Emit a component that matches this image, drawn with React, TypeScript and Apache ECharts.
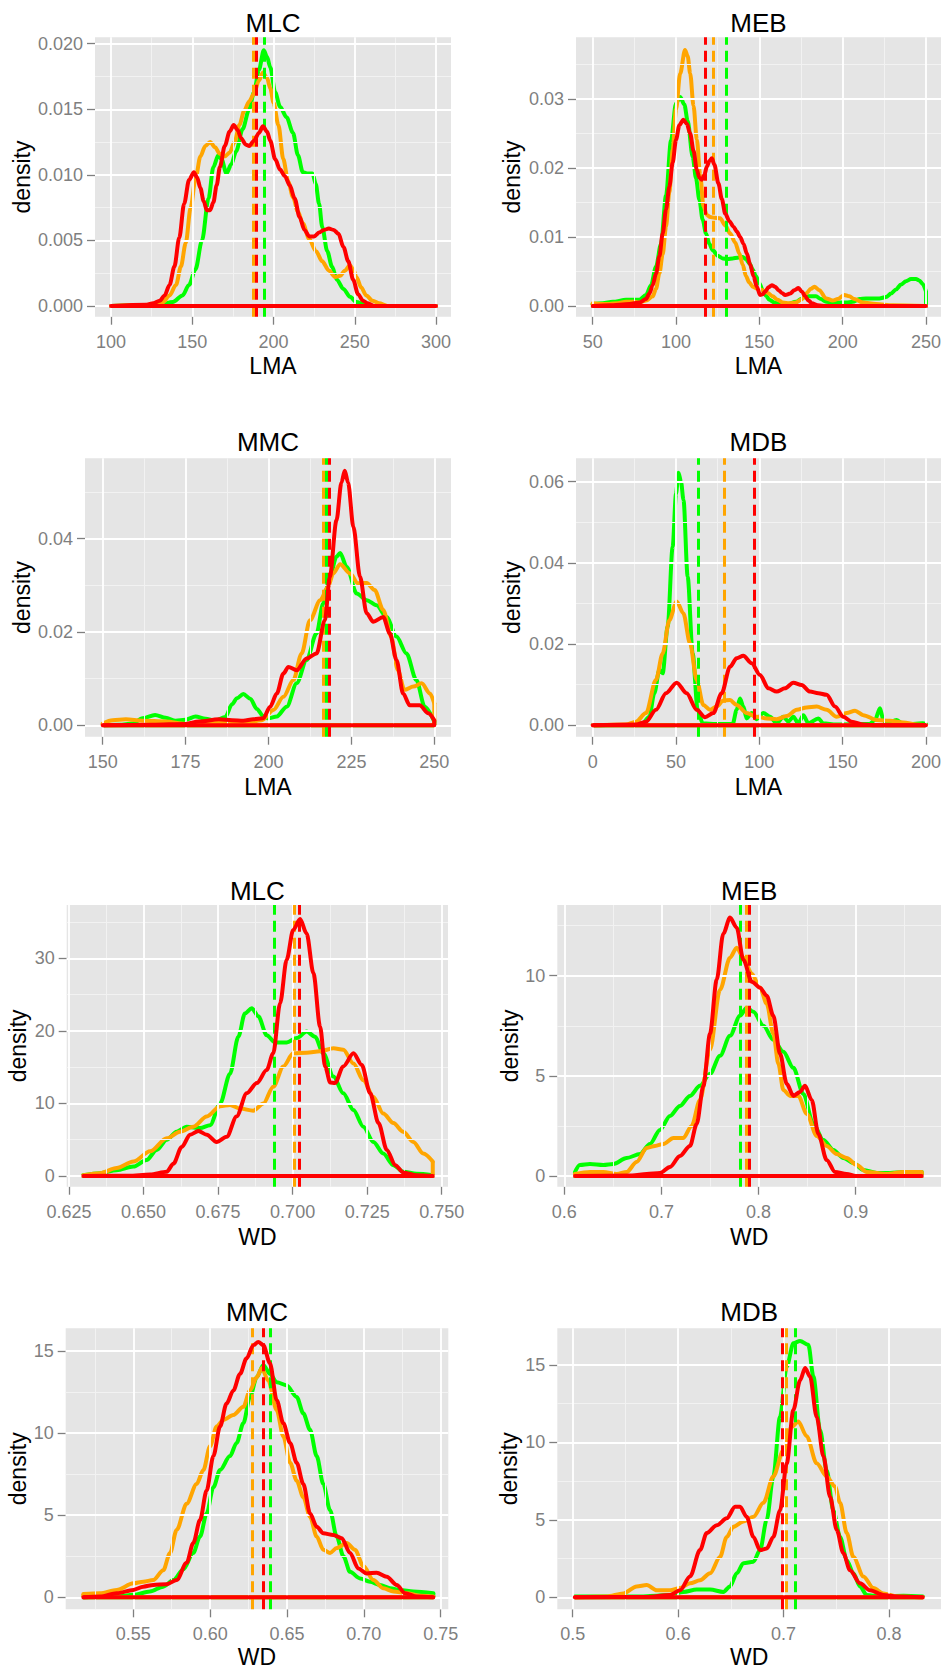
import React, { useEffect, useRef } from "react";
import * as echarts from "echarts";

const COLORS = ["#00FF00", "#FFA500", "#FF0000"];
const FONT = "'Liberation Sans', Arial, sans-serif";

// ---------- Titles / axis names ----------
const panelTitles = ["MLC", "MEB", "MMC", "MDB", "MLC", "MEB", "MMC", "MDB"];
const xNames = ["LMA", "LMA", "LMA", "LMA", "WD", "WD", "WD", "WD"];
const yName = "density";

// ---------- Tick values ----------
const p1XTicks = [100, 150, 200, 250, 300];
const p1XMinor = [125, 175, 225, 275];
const p1YTicks = [0, 0.005, 0.01, 0.015, 0.02];
const p1YMinor = [0.0025, 0.0075, 0.0125, 0.0175];

const p2XTicks = [50, 100, 150, 200, 250];
const p2XMinor = [75, 125, 175, 225];
const p2YTicks = [0, 0.01, 0.02, 0.03];
const p2YMinor = [0.005, 0.015, 0.025, 0.035];

const p3XTicks = [150, 175, 200, 225, 250];
const p3XMinor = [162.5, 187.5, 212.5, 237.5];
const p3YTicks = [0, 0.02, 0.04];
const p3YMinor = [0.01, 0.03, 0.05];

const p4XTicks = [0, 50, 100, 150, 200];
const p4XMinor = [25, 75, 125, 175];
const p4YTicks = [0, 0.02, 0.04, 0.06];
const p4YMinor = [0.01, 0.03, 0.05];

const p5XTicks = [0.625, 0.65, 0.675, 0.7, 0.725, 0.75];
const p5XMinor = [0.6375, 0.6625, 0.6875, 0.7125, 0.7375];
const p5YTicks = [0, 10, 20, 30];
const p5YMinor = [5, 15, 25, 35];

const p6XTicks = [0.6, 0.7, 0.8, 0.9];
const p6XMinor = [0.65, 0.75, 0.85, 0.95];
const p6YTicks = [0, 5, 10];
const p6YMinor = [2.5, 7.5, 12.5];

const p7XTicks = [0.55, 0.6, 0.65, 0.7, 0.75];
const p7XMinor = [0.525, 0.575, 0.625, 0.675, 0.725];
const p7YTicks = [0, 5, 10, 15];
const p7YMinor = [2.5, 7.5, 12.5];

const p8XTicks = [0.5, 0.6, 0.7, 0.8];
const p8XMinor = [0.55, 0.65, 0.75];
const p8YTicks = [0, 5, 10, 15];
const p8YMinor = [2.5, 7.5, 12.5];

// ---------- Density curves ----------
// Panel 1: MLC, LMA
const mlcLmaGreen = [[100,0],[130,0.0001],[138,0.0003],[144,0.0008],[148,0.0016],[152,0.0028],[156,0.005],[160,0.0082],[163,0.0106],[166,0.0115],[168,0.0112],[171,0.0101],[174,0.0108],[177,0.0118],[181,0.0135],[185,0.015],[188,0.0163],[191,0.018],[194,0.0195],[196,0.019],[198,0.0182],[201,0.0163],[204,0.0152],[208,0.0144],[212,0.0132],[215,0.0115],[218,0.0102],[221,0.0101],[224,0.0101],[226,0.0093],[228,0.0078],[230,0.006],[233,0.0042],[236,0.003],[239,0.002],[243,0.0013],[247,0.0007],[251,0.0003],[256,0.0001],[260,0],[300,0]];
const mlcLmaOrange = [[100,0],[128,0.0001],[132,0.0003],[136,0.0008],[140,0.0016],[143,0.003],[146,0.0048],[149,0.0075],[152,0.0097],[155,0.0114],[158,0.0122],[161,0.0125],[164,0.0121],[167,0.0116],[170,0.0114],[173,0.0117],[176,0.0125],[179,0.0138],[182,0.0149],[185,0.0156],[188,0.0162],[191,0.0172],[193.5,0.0178],[196,0.0174],[198,0.0166],[200,0.0155],[203,0.0138],[206,0.0112],[209,0.0095],[212,0.0083],[215,0.0072],[218,0.0063],[222,0.0051],[226,0.0042],[230,0.0034],[234,0.0027],[238,0.0022],[241,0.0023],[244,0.0027],[247,0.0031],[249,0.0028],[251,0.0022],[254,0.0014],[257,0.0008],[261,0.0004],[265,0.0002],[270,0],[300,0]];
const mlcLmaRed = [[100,0],[122,0.0001],[126,0.0002],[130,0.0004],[133,0.0008],[136,0.0016],[139,0.003],[142,0.0052],[145,0.0078],[148,0.0096],[151,0.0102],[153,0.0098],[155,0.009],[157,0.008],[159,0.0073],[161,0.0073],[163,0.0079],[165,0.0092],[167,0.0106],[170,0.0122],[173,0.0133],[175.5,0.0138],[178,0.0134],[180,0.0128],[183,0.0123],[185,0.0122],[188,0.0126],[191,0.0132],[193.5,0.0137],[196,0.0133],[198,0.0126],[201,0.0112],[204,0.0104],[207,0.0099],[210,0.0092],[213,0.0082],[216,0.0068],[219,0.0058],[222,0.0053],[225,0.0053],[228,0.0056],[231,0.0058],[234,0.0059],[237,0.0058],[240,0.0055],[243,0.0045],[246,0.0034],[249,0.002],[252,0.0009],[255,0.0004],[258,0.0002],[262,0],[300,0]];
const mlcLmaMeans = [194.3, 187.6, 189.6];

// Panel 2: MEB, LMA
const mebLmaGreen = [[50,0.0003],[56,0.0004],[62,0.0006],[70,0.0009],[78,0.0009],[82,0.0016],[85,0.003],[88,0.0057],[91,0.009],[94,0.016],[97,0.024],[100,0.0294],[102.5,0.0303],[105,0.0292],[107,0.0268],[110,0.0216],[112,0.0185],[114,0.0154],[116,0.0125],[118,0.0105],[120,0.009],[122,0.0081],[125,0.0073],[128,0.0069],[131,0.0068],[134,0.0069],[137,0.007],[140,0.0071],[142,0.0068],[144,0.0062],[146,0.0053],[148,0.0043],[150,0.0033],[152,0.0023],[154,0.0015],[156,0.0009],[159,0.0005],[162,0.0003],[167,0.0003],[172,0.0006],[175,0.001],[178,0.0014],[184,0.0014],[187,0.001],[190,0.0006],[196,0.0005],[202,0.0005],[206,0.0006],[210,0.001],[214,0.0011],[222,0.0011],[226,0.0013],[229,0.0018],[232,0.0024],[235,0.0031],[238,0.0036],[241,0.0039],[244,0.0039],[246,0.0037],[248,0.0032],[250,0.0021]];
const mebLmaOrange = [[50,0.0004],[55,0.0003],[60,0.0003],[65,0.0004],[70,0.0006],[75,0.0006],[78,0.0005],[82,0.0008],[86,0.0014],[88,0.0025],[90,0.0047],[92,0.0075],[94,0.0115],[96,0.0165],[98,0.0226],[100,0.0285],[102.5,0.0337],[105.4,0.0371],[107,0.0362],[108.5,0.0337],[110.5,0.029],[112.5,0.0241],[114.5,0.019],[116.5,0.0144],[118.5,0.0132],[120.5,0.0129],[123,0.0128],[126.5,0.0127],[129.5,0.0117],[132.5,0.0105],[135.5,0.0092],[138,0.0076],[140,0.006],[142,0.0043],[144,0.0034],[146,0.0028],[149,0.0025],[152,0.0023],[155,0.0019],[158,0.0014],[161,0.0009],[164,0.0005],[168,0.0004],[172,0.0005],[175,0.0009],[178,0.0018],[181,0.0025],[183,0.0028],[186,0.0023],[190,0.0011],[194,0.0008],[197,0.001],[201,0.0016],[204,0.0014],[207,0.001],[212,0.0005],[220,0.0003],[230,0.0001],[250,0]];
const mebLmaRed = [[50,0],[60,0.0001],[72,0.0003],[78,0.0005],[82,0.001],[84,0.0018],[86,0.003],[88,0.0047],[90,0.0072],[92,0.0105],[94,0.014],[96,0.0173],[98,0.0208],[100,0.0241],[102,0.0262],[104.4,0.027],[106.5,0.0264],[108.5,0.025],[110.5,0.0225],[112.5,0.0197],[114,0.0186],[115.5,0.0183],[117,0.019],[118.5,0.0202],[120,0.021],[121.5,0.0214],[123,0.0205],[125.4,0.0178],[127.5,0.0155],[129.5,0.0134],[132,0.0123],[134.5,0.0115],[136.5,0.0108],[138.5,0.01],[140.5,0.009],[142.5,0.0076],[144.5,0.006],[146.5,0.0043],[148.5,0.0028],[150.4,0.0016],[152,0.0017],[153.5,0.0021],[155.5,0.0027],[157.5,0.003],[159.5,0.0028],[161.5,0.0023],[163.5,0.0019],[165.5,0.0016],[168.5,0.0018],[171,0.0023],[173.5,0.0026],[175.5,0.0021],[177.5,0.0014],[179.5,0.0008],[181.5,0.0004],[185,0.0001],[190,0],[250,0]];
const mebLmaMeans = [130.4, 122.4, 117.4];

// Panel 3: MMC, LMA
const mmcLmaGreen = [[150,0],[155,0.0001],[159,0.0004],[162,0.0015],[165.8,0.0022],[169,0.0016],[172,0.001],[175,0.0012],[178,0.0019],[181,0.0014],[184,0.001],[187,0.0018],[189,0.0045],[190.5,0.0058],[192.4,0.0067],[194.5,0.0057],[196.5,0.0035],[198.5,0.0019],[200,0.0015],[202.5,0.0019],[205.5,0.004],[208.5,0.009],[211.5,0.014],[214.5,0.0197],[216.5,0.0261],[218.5,0.0318],[220.5,0.0361],[221.6,0.0369],[223.6,0.0339],[226.6,0.0282],[229.6,0.0268],[232.6,0.0257],[235.6,0.0232],[238.6,0.019],[241.6,0.0154],[244.6,0.0097],[247.1,0.004],[250,0.0008]];
const mmcLmaOrange = [[150,0.0004],[153,0.0011],[157,0.0013],[162,0.001],[169,0.0008],[175,0.0003],[181,0.0004],[187,0.0008],[193,0.0006],[198,0.0011],[201.5,0.0033],[204.5,0.0061],[207.5,0.0097],[210,0.0154],[212.5,0.0225],[215.6,0.0268],[218,0.0297],[219.5,0.0325],[221.6,0.0345],[224.6,0.0325],[227,0.0304],[229.6,0.0305],[232,0.029],[234.6,0.0247],[237,0.019],[239,0.0118],[241,0.0076],[243.7,0.0083],[246.2,0.009],[248.7,0.0068],[250,0.0047]];
const mmcLmaRed = [[150,0],[165,0.0001],[175,0.0003],[179,0.0008],[185,0.0013],[189,0.0011],[192.4,0.001],[195.4,0.0013],[198.4,0.0015],[200.5,0.004],[202.5,0.0068],[204.5,0.0111],[206,0.0125],[208.5,0.0118],[211.5,0.0143],[214.5,0.0154],[217,0.0225],[218.5,0.0318],[220.5,0.0439],[222,0.052],[223,0.0545],[224,0.052],[225.6,0.0425],[227.6,0.0318],[229.6,0.024],[231.6,0.0222],[234.6,0.0232],[236.6,0.0197],[238.6,0.014],[240.6,0.0068],[242.6,0.0043],[245.6,0.0043],[248.2,0.0026],[250,0.0011]];
const mmcLmaMeans = [217.4, 216.6, 218.4];

// Panel 4: MDB, LMA
const mdbLmaGreen = [[0,0],[25,0.0001],[30,0.0005],[34,0.0021],[37,0.0079],[40,0.0136],[42,0.0128],[45,0.0243],[48,0.044],[50,0.057],[51.5,0.0622],[53,0.06],[54.5,0.0555],[57,0.0366],[60,0.0177],[63,0.0038],[66,0.0005],[74,0.0003],[84,0.0003],[86.4,0.0038],[88.4,0.0066],[90.4,0.0046],[92.4,0.0017],[95.4,0.003],[98.4,0.0015],[102.4,0.003],[106.4,0.0021],[110.4,0.0005],[114.4,0.0021],[117.4,0.0009],[120.4,0.0021],[123.4,0.0005],[126.4,0.0025],[129.4,0.0005],[135.4,0.0017],[138.4,0.0005],[146,0.0002],[166,0.0003],[169.4,0.0013],[172.4,0.0042],[174.4,0.0013],[176.4,0.0003],[182.4,0.0013],[186.4,0.0002],[198,0.0005],[200,0.0003]];
const mdbLmaOrange = [[0,0],[20,0.0002],[26,0.0009],[32,0.003],[38,0.0112],[42,0.0177],[46,0.0259],[50.4,0.0305],[54.4,0.0276],[58.4,0.0202],[62.4,0.0112],[66.4,0.005],[70.4,0.0038],[74.4,0.0046],[78.4,0.0061],[82.4,0.0062],[86.4,0.005],[92.4,0.003],[98.4,0.0021],[104.4,0.0017],[110.4,0.0015],[116.4,0.0023],[122.4,0.0038],[128.4,0.0044],[134.4,0.0046],[140.4,0.0038],[146.4,0.0021],[152.4,0.003],[157.4,0.0036],[162.4,0.0025],[170.4,0.0013],[178.4,0.0011],[186.4,0.0007],[194.4,0.0002],[200,0]];
const mdbLmaRed = [[0,0],[26,0.0002],[32,0.0009],[38,0.0038],[44,0.0079],[50.4,0.0105],[56.4,0.0079],[62.4,0.0038],[67.4,0.002],[72.4,0.003],[77.4,0.0079],[82.4,0.0144],[86.4,0.0165],[90.4,0.0171],[95.4,0.0153],[100.4,0.0124],[105.4,0.0091],[110.4,0.0083],[115.4,0.0091],[120.4,0.0105],[125.4,0.0099],[130.4,0.0083],[135.4,0.0079],[140.4,0.0075],[145.4,0.0046],[150.4,0.0021],[155.4,0.0009],[162.4,0.0002],[170,0],[200,0]];
const mdbLmaMeans = [63.6, 78.8, 96.8];

// Panel 5: MLC, WD
const mlcWdGreen = [[0.6298,0.1],[0.6354,0.4],[0.641,0.8],[0.6466,1.3],[0.651,2.2],[0.6544,3.6],[0.6578,5.0],[0.6611,6.1],[0.6645,6.8],[0.669,6.6],[0.6723,7.0],[0.6757,10.0],[0.679,14.1],[0.6818,19.2],[0.684,22.4],[0.6863,23.1],[0.6885,22.0],[0.6913,19.4],[0.6941,18.4],[0.698,18.4],[0.7014,19.0],[0.7047,19.9],[0.7075,19.2],[0.7103,16.9],[0.7137,13.7],[0.717,11.4],[0.7204,9.1],[0.7237,6.8],[0.7271,4.7],[0.7304,3.1],[0.7338,1.5],[0.7371,0.6],[0.7416,0.3],[0.747,0.1]];
const mlcWdOrange = [[0.6298,0.1],[0.6354,0.4],[0.641,1.1],[0.6466,2.0],[0.6522,3.4],[0.6578,5.2],[0.6622,6.1],[0.6667,6.8],[0.6712,8.2],[0.6757,9.6],[0.679,9.8],[0.6824,9.3],[0.6868,9.0],[0.6902,10.0],[0.6935,12.3],[0.6969,15.1],[0.7002,16.9],[0.7047,17.0],[0.7092,17.2],[0.7137,17.6],[0.717,17.4],[0.7204,15.5],[0.7237,13.2],[0.7271,10.9],[0.7304,8.6],[0.7338,7.3],[0.7371,6.1],[0.7405,4.7],[0.7438,3.1],[0.747,2.0]];
const mlcWdRed = [[0.6298,0],[0.645,0.05],[0.6522,0.2],[0.6578,0.6],[0.66,1.7],[0.6628,4.0],[0.6656,5.7],[0.6684,6.2],[0.6712,5.7],[0.6745,4.7],[0.6779,5.4],[0.6812,8.2],[0.6846,11.4],[0.688,12.8],[0.6913,14.6],[0.6935,16.9],[0.6958,23.8],[0.698,29.8],[0.7002,33.9],[0.7025,35.4],[0.7047,33.4],[0.707,27.9],[0.7092,20.6],[0.7109,15.1],[0.7126,12.9],[0.7142,12.8],[0.717,15.1],[0.7204,16.9],[0.7232,15.3],[0.726,11.4],[0.7288,7.3],[0.7316,3.6],[0.7344,1.5],[0.7371,0.5],[0.7416,0.1],[0.747,0]];
const mlcWdMeans = [0.6939, 0.7005, 0.7021];

// Panel 6: MEB, WD
const mebWdGreen = [[0.611,0.2],[0.616,0.55],[0.6264,0.6],[0.6402,0.55],[0.6505,0.6],[0.6642,0.9],[0.678,1.1],[0.6882,1.6],[0.6985,2.3],[0.7088,3.0],[0.7191,3.5],[0.7294,4.0],[0.7397,4.5],[0.75,5.1],[0.7603,6.0],[0.7706,7.0],[0.7809,8.0],[0.7878,8.4],[0.7946,8.2],[0.805,7.5],[0.8152,6.8],[0.8255,6.2],[0.8358,5.4],[0.8461,4.1],[0.8564,2.6],[0.8667,1.8],[0.877,1.3],[0.8873,0.9],[0.8976,0.65],[0.9079,0.3],[0.9217,0.15],[0.9354,0.15],[0.9491,0.2],[0.968,0.2]];
const mebWdOrange = [[0.611,0.1],[0.6264,0.2],[0.64,0.2],[0.654,0.1],[0.6642,0.2],[0.6745,0.7],[0.6848,1.4],[0.6934,1.5],[0.702,1.6],[0.7123,1.9],[0.7226,1.9],[0.7311,2.5],[0.7397,3.8],[0.75,6.3],[0.7603,9.3],[0.7706,10.9],[0.7775,11.4],[0.7843,10.9],[0.793,10.1],[0.8015,9.4],[0.8084,8.6],[0.8152,7.1],[0.8204,5.6],[0.8255,4.3],[0.8324,4.0],[0.841,4.0],[0.8496,3.1],[0.8599,2.0],[0.8701,1.5],[0.8804,1.1],[0.8907,0.9],[0.901,0.55],[0.9113,0.2],[0.932,0.1],[0.949,0.2],[0.968,0.2]];
const mebWdRed = [[0.611,0],[0.67,0.02],[0.6848,0.1],[0.6985,0.15],[0.7088,0.45],[0.7191,1.0],[0.7294,1.5],[0.7363,2.6],[0.7432,4.5],[0.75,7.1],[0.7569,9.8],[0.7637,12.1],[0.7706,12.9],[0.7775,12.4],[0.7843,10.8],[0.793,9.7],[0.8015,9.4],[0.8084,9.0],[0.8152,8.0],[0.8221,6.1],[0.829,4.6],[0.8358,4.0],[0.8427,4.2],[0.8478,4.5],[0.8547,3.8],[0.8616,2.1],[0.8701,0.8],[0.8787,0.2],[0.8907,0.1],[0.9,0],[0.968,0]];
const mebWdMeans = [0.781, 0.787, 0.790];

// Panel 7: MMC, WD
const mmcWdGreen = [[0.5175,0],[0.5392,0.05],[0.55,0.15],[0.5608,0.35],[0.5695,0.65],[0.576,1.05],[0.5825,1.7],[0.589,2.7],[0.5934,3.7],[0.5977,5.1],[0.6021,6.7],[0.6064,7.75],[0.6129,8.6],[0.6172,9.4],[0.6216,10.6],[0.6259,12.2],[0.6303,13.4],[0.6346,14.15],[0.6389,13.6],[0.6433,13.1],[0.6498,12.9],[0.6563,12.2],[0.6606,11.2],[0.665,10.2],[0.6693,8.6],[0.6736,6.9],[0.678,5.3],[0.6823,3.7],[0.6867,2.5],[0.691,1.55],[0.6975,1.15],[0.704,0.95],[0.7105,0.75],[0.7171,0.55],[0.7236,0.45],[0.7322,0.35],[0.7452,0.25]];
const mmcWdOrange = [[0.5175,0.2],[0.5283,0.25],[0.5392,0.45],[0.55,0.85],[0.5565,0.95],[0.563,1.05],[0.5695,1.65],[0.5739,2.7],[0.5782,4.1],[0.5847,5.7],[0.5912,6.9],[0.5956,7.75],[0.5999,9.2],[0.6042,10.4],[0.6086,10.8],[0.6151,11.1],[0.6216,11.6],[0.6259,12.6],[0.6303,13.4],[0.6335,13.95],[0.6378,13.2],[0.6433,11.4],[0.6476,9.8],[0.652,8.2],[0.6563,7.1],[0.6606,6.1],[0.665,4.9],[0.6693,3.7],[0.6736,2.9],[0.678,2.7],[0.6823,3.0],[0.6888,3.3],[0.6942,2.9],[0.6997,1.9],[0.7062,1.05],[0.7127,0.55],[0.7192,0.35],[0.7279,0.25],[0.7366,0.1],[0.7452,0.05]];
const mmcWdRed = [[0.5175,0],[0.5283,0.05],[0.5392,0.25],[0.55,0.45],[0.5565,0.65],[0.563,0.75],[0.5717,0.8],[0.5782,1.05],[0.5847,2.1],[0.589,3.3],[0.5934,4.7],[0.5977,6.5],[0.6021,8.6],[0.6064,10.4],[0.6107,11.8],[0.6151,12.6],[0.6194,13.6],[0.6237,14.55],[0.6281,15.35],[0.6313,15.55],[0.6346,15.35],[0.6389,14.25],[0.6433,12.0],[0.6476,10.6],[0.652,9.4],[0.6563,8.2],[0.6606,6.9],[0.665,5.1],[0.6693,4.3],[0.6736,3.9],[0.6801,3.8],[0.6856,3.6],[0.691,2.7],[0.6964,1.75],[0.7018,1.45],[0.7083,1.5],[0.7149,1.25],[0.7214,0.75],[0.7268,0.25],[0.7344,0.05],[0.7452,0]];
const mmcWdMeans = [0.6392, 0.6277, 0.6344];

// Panel 8: MDB, WD
const mdbWdGreen = [[0.502,0.05],[0.5607,0.05],[0.5797,0.1],[0.5923,0.15],[0.605,0.35],[0.6176,0.5],[0.6303,0.5],[0.6429,0.35],[0.6492,0.7],[0.6556,1.55],[0.6619,2.2],[0.6714,2.3],[0.6777,3.05],[0.684,5.0],[0.6903,7.8],[0.6966,11.65],[0.703,14.9],[0.7093,16.4],[0.7156,16.55],[0.7235,16.3],[0.7283,14.25],[0.7346,10.8],[0.7409,8.2],[0.7472,5.6],[0.7536,3.9],[0.7599,2.4],[0.7662,1.55],[0.7725,0.7],[0.7788,0.15],[0.7915,0.05],[0.8136,0.1],[0.832,0.05]];
const mdbWdOrange = [[0.502,0],[0.5322,0.05],[0.548,0.25],[0.5607,0.7],[0.5702,0.8],[0.5797,0.45],[0.5923,0.45],[0.6018,0.6],[0.6113,0.9],[0.6208,1.1],[0.6303,1.55],[0.6397,2.6],[0.6461,3.9],[0.6524,4.55],[0.6619,4.9],[0.6714,5.2],[0.6809,6.1],[0.6903,7.8],[0.6998,9.5],[0.7077,11.0],[0.714,11.35],[0.7219,10.4],[0.7314,8.65],[0.7409,7.8],[0.7488,7.15],[0.7536,6.1],[0.7599,4.15],[0.7662,2.6],[0.7757,1.35],[0.7852,0.6],[0.7947,0.25],[0.8073,0.05],[0.832,0]];
const mdbWdRed = [[0.502,0],[0.57,0.02],[0.5923,0.15],[0.6018,0.45],[0.6113,1.35],[0.6208,3.05],[0.6271,4.15],[0.6366,4.65],[0.6461,5.1],[0.654,5.85],[0.6587,5.85],[0.665,5.2],[0.6714,3.9],[0.6777,3.05],[0.684,3.15],[0.6903,3.9],[0.6966,5.6],[0.703,8.65],[0.7093,12.1],[0.7156,14.0],[0.7204,14.8],[0.7251,14.25],[0.7314,11.65],[0.7378,9.1],[0.7441,6.5],[0.7504,4.35],[0.7567,2.85],[0.763,1.75],[0.7725,0.9],[0.782,0.45],[0.7947,0.15],[0.8073,0.05],[0.832,0]];
const mdbWdMeans = [0.7109, 0.703, 0.6989];

// ---------- Panel layout (positions / axis extents) ----------
const panels = [
  { grid: { left: 95, top: 37.3, width: 356, height: 279.4 }, xr: [90.15, 309.2], yr: [-0.00082, 0.02049], xt: p1XTicks, xm: p1XMinor, yt: p1YTicks, ym: p1YMinor, xd: 0, yd: 3, curves: [mlcLmaGreen, mlcLmaOrange, mlcLmaRed], means: mlcLmaMeans, titleY: 23, xNameY: 366, yNameX: 22 },
  { grid: { left: 576, top: 37.3, width: 365, height: 279.4 }, xr: [39.98, 259], yr: [-0.00155, 0.03894], xt: p2XTicks, xm: p2XMinor, yt: p2YTicks, ym: p2YMinor, xd: 0, yd: 2, curves: [mebLmaGreen, mebLmaOrange, mebLmaRed], means: mebLmaMeans, titleY: 23, xNameY: 366, yNameX: 512 },
  { grid: { left: 85, top: 458.3, width: 366, height: 278.4 }, xr: [144.66, 255.04], yr: [-0.00244, 0.05718], xt: p3XTicks, xm: p3XMinor, yt: p3YTicks, ym: p3YMinor, xd: 0, yd: 2, curves: [mmcLmaGreen, mmcLmaOrange, mmcLmaRed], means: mmcLmaMeans, titleY: 441.7, xNameY: 786.7, yNameX: 22 },
  { grid: { left: 576, top: 458.3, width: 365, height: 278.4 }, xr: [-10, 209], yr: [-0.00281, 0.06576], xt: p4XTicks, xm: p4XMinor, yt: p4YTicks, ym: p4YMinor, xd: 0, yd: 2, curves: [mdbLmaGreen, mdbLmaOrange, mdbLmaRed], means: mdbLmaMeans, titleY: 441.7, xNameY: 786.7, yNameX: 512 },
  { grid: { left: 66.7, top: 905, width: 381.3, height: 281.7 }, xr: [0.62423, 0.75211], yr: [-1.47, 37.34], xt: p5XTicks, xm: p5XMinor, yt: p5YTicks, ym: p5YMinor, xd: 3, yd: 0, curves: [mlcWdGreen, mlcWdOrange, mlcWdRed], means: mlcWdMeans, titleY: 890.7, xNameY: 1236.7, yNameX: 18 },
  { grid: { left: 557.3, top: 905, width: 383.7, height: 281.7 }, xr: [0.5928, 0.9878], yr: [-0.534, 13.53], xt: p6XTicks, xm: p6XMinor, yt: p6YTicks, ym: p6YMinor, xd: 1, yd: 0, curves: [mebWdGreen, mebWdOrange, mebWdRed], means: mebWdMeans, titleY: 890.7, xNameY: 1236.7, yNameX: 510 },
  { grid: { left: 65.7, top: 1328.3, width: 382.6, height: 281 }, xr: [0.506, 0.75494], yr: [-0.73, 16.38], xt: p7XTicks, xm: p7XMinor, yt: p7YTicks, ym: p7YMinor, xd: 2, yd: 0, curves: [mmcWdGreen, mmcWdOrange, mmcWdRed], means: mmcWdMeans, titleY: 1311.7, xNameY: 1657, yNameX: 18 },
  { grid: { left: 557.3, top: 1328.3, width: 383.7, height: 281 }, xr: [0.4854, 0.8493], yr: [-0.775, 17.37], xt: p8XTicks, xm: p8XMinor, yt: p8YTicks, ym: p8YMinor, xd: 1, yd: 0, curves: [mdbWdGreen, mdbWdOrange, mdbWdRed], means: mdbWdMeans, titleY: 1311.7, xNameY: 1657, yNameX: 509 },
];

function buildOption() {
  const grids: any[] = [];
  const xAxes: any[] = [];
  const yAxes: any[] = [];
  const series: any[] = [];
  const graphics: any[] = [];

  panels.forEach((p, i) => {
    grids.push({ ...p.grid, show: true, backgroundColor: "#E5E5E5", borderWidth: 0, containLabel: false });
    const tickStyle = { color: "#7F7F7F", width: 1.3 };
    const labelStyle = { color: "#7F7F7F", fontSize: 18, fontFamily: FONT };
    xAxes.push({
      type: "value", gridIndex: i, min: p.xr[0], max: p.xr[1],
      axisLine: { show: false, onZero: false },
      splitLine: { show: false },
      axisTick: { show: true, length: 8, lineStyle: tickStyle, customValues: p.xt },
      axisLabel: { ...labelStyle, margin: 16, customValues: p.xt, formatter: (v: number) => v.toFixed(p.xd), showMinLabel: true, showMaxLabel: true },
    });
    yAxes.push({
      type: "value", gridIndex: i, min: p.yr[0], max: p.yr[1],
      axisLine: { show: false, onZero: false },
      splitLine: { show: false },
      axisTick: { show: true, length: 8, lineStyle: tickStyle, customValues: p.yt },
      axisLabel: { ...labelStyle, margin: 12, customValues: p.yt, formatter: (v: number) => v.toFixed(p.yd), showMinLabel: true, showMaxLabel: true },
    });

    // grid lines (minor then major)
    const minorStyle = { color: "#F2F2F2", width: 1, type: "solid" };
    const majorStyle = { color: "#FFFFFF", width: 1.8, type: "solid" };
    series.push({
      type: "line", xAxisIndex: i, yAxisIndex: i, data: [[p.xr[0], p.yr[0]]], showSymbol: false, silent: true, z: 1,
      lineStyle: { opacity: 0 },
      markLine: {
        silent: true, precision: 8, symbol: ["none", "none"], label: { show: false }, emphasis: { disabled: true },
        data: [
          ...p.xm.map((v) => ({ xAxis: v, lineStyle: minorStyle })),
          ...p.ym.map((v) => ({ yAxis: v, lineStyle: minorStyle })),
          ...p.xt.map((v) => ({ xAxis: v, lineStyle: majorStyle })),
          ...p.yt.map((v) => ({ yAxis: v, lineStyle: majorStyle })),
        ],
      },
    });

    // density curves (closed like ggplot polygons)
    p.curves.forEach((pts, k) => {
      const color = COLORS[k];
      const first = pts[0];
      const last = pts[pts.length - 1];
      series.push({
        type: "line", xAxisIndex: i, yAxisIndex: i, data: pts, showSymbol: false, silent: true,
        smooth: 0.3, smoothMonotone: "x", z: 3 + k,
        lineStyle: { color, width: 4, join: "round", cap: "round" },
      });
      series.push({
        type: "line", xAxisIndex: i, yAxisIndex: i,
        data: [last, [last[0], 0], [first[0], 0], first],
        showSymbol: false, silent: true, z: 3 + k,
        lineStyle: { color, width: 4, join: "round" },
      });
    });

    // mean lines
    series.push({
      type: "line", xAxisIndex: i, yAxisIndex: i, data: [[p.xr[0], p.yr[0]]], showSymbol: false, silent: true, z: 7,
      lineStyle: { opacity: 0 },
      markLine: {
        silent: true, precision: 8, symbol: ["none", "none"], label: { show: false }, emphasis: { disabled: true },
        data: p.means.map((m, k) => ({ xAxis: m, lineStyle: { color: COLORS[k], width: 3, type: [11, 6] } })),
      },
    });

    const cx = p.grid.left + p.grid.width / 2;
    const cy = p.grid.top + p.grid.height / 2;
    graphics.push({
      type: "text", x: cx, y: p.titleY, silent: true,
      style: { text: panelTitles[i], fill: "#000", fontSize: 26, fontFamily: FONT, align: "center", verticalAlign: "middle" },
    });
    graphics.push({
      type: "text", x: cx, y: p.xNameY, silent: true,
      style: { text: xNames[i], fill: "#000", fontSize: 23, fontFamily: FONT, align: "center", verticalAlign: "middle" },
    });
    graphics.push({
      type: "text", x: p.yNameX, y: cy, rotation: Math.PI / 2, silent: true,
      style: { text: yName, fill: "#000", fontSize: 23, fontFamily: FONT, align: "center", verticalAlign: "middle" },
    });
  });

  return {
    animation: false,
    grid: grids,
    xAxis: xAxes,
    yAxis: yAxes,
    series,
    graphic: graphics,
  };
}

export default function App() {
  const ref = useRef<HTMLDivElement>(null);
  useEffect(() => {
    if (!ref.current) return;
    const chart = echarts.init(ref.current, undefined, { renderer: "svg" });
    chart.setOption(buildOption() as any);
    return () => chart.dispose();
  }, []);
  return (
    <div
      ref={ref}
      style={{ position: "absolute", left: 0, top: 0, width: 945, height: 1671, background: "#FFFFFF" }}
    />
  );
}
